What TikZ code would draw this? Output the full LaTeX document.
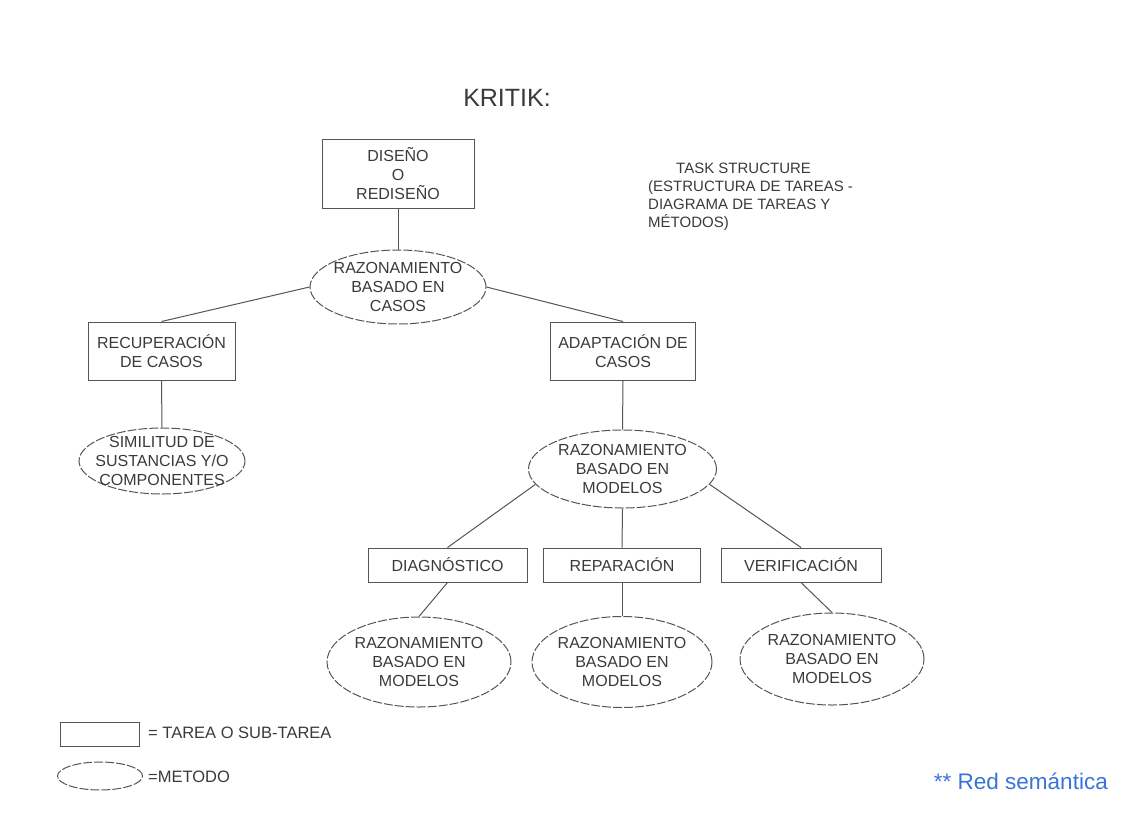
\documentclass[tikz,border=0pt]{standalone}
\usepackage{fontspec}
\setmainfont{Liberation Sans}
\usetikzlibrary{shapes.geometric}
\definecolor{ink}{HTML}{3A3A3A}
\definecolor{edge}{HTML}{555555}
\definecolor{bluetxt}{HTML}{3874D8}
\tikzset{
  task/.style={draw=edge, line width=1pt, inner sep=0pt},
  meth/.style={draw=edge, line width=1pt, ellipse, inner sep=0pt, dash pattern=on 9pt off 2pt},
  lbl/.style={text=ink, align=center, font=\fontsize{16}{19}\selectfont, inner sep=0pt},
  conn/.style={draw=edge, line width=1pt},
}
\begin{document}
\begin{tikzpicture}[x=1pt,y=-1pt]
\useasboundingbox (0,0) rectangle (1148,828);
% title
\node[text=ink, font=\fontsize{25}{30}\selectfont, inner sep=0pt] (title) at (507,98) {KRITIK:};
% task structure note
\node[text=ink, align=left, anchor=north west, font=\fontsize{15}{18}\selectfont, inner sep=0pt] (note) at (648,163)
  {\hspace*{28pt}TASK STRUCTURE\\(ESTRUCTURA DE TAREAS -\\DIAGRAMA DE TAREAS Y\\MÉTODOS)};
% nodes
\node[task, minimum width=152, minimum height=69] (b1) at (398,173.5) {};
\node[lbl] (b1t) at (b1) {DISEÑO\\O\\REDISEÑO};
\node[meth, minimum width=176, minimum height=74] (e1) at (398,287) {};
\node[lbl] (e1t) at (e1) {RAZONAMIENTO\\BASADO EN\\CASOS};
\node[task, minimum width=147, minimum height=58] (b2) at (161.5,351) {};
\node[lbl] (b2t) at (b2) {RECUPERACIÓN\\DE CASOS};
\node[task, minimum width=145, minimum height=58] (b3) at (623,351) {};
\node[lbl] (b3t) at (b3) {ADAPTACIÓN DE\\CASOS};
\node[meth, minimum width=166, minimum height=66] (e2) at (162,461) {};
\node[lbl] (e2t) at (e2) {SIMILITUD DE\\SUSTANCIAS Y/O\\COMPONENTES};
\node[meth, minimum width=188, minimum height=78] (m) at (622.5,469) {};
\node[lbl] (mt) at (m) {RAZONAMIENTO\\BASADO EN\\MODELOS};
\node[task, minimum width=159, minimum height=34] (b4) at (447.5,565) {};
\node[lbl] (b4t) at (b4) {DIAGNÓSTICO};
\node[task, minimum width=157, minimum height=34] (b5) at (622,565) {};
\node[lbl] (b5t) at (b5) {REPARACIÓN};
\node[task, minimum width=160, minimum height=34] (b6) at (801,565) {};
\node[lbl] (b6t) at (b6) {VERIFICACIÓN};
\node[meth, minimum width=184, minimum height=90] (e4) at (419,662) {};
\node[lbl] (e4t) at (e4) {RAZONAMIENTO\\BASADO EN\\MODELOS};
\node[meth, minimum width=180, minimum height=91] (e5) at (622,662) {};
\node[lbl] (e5t) at (e5) {RAZONAMIENTO\\BASADO EN\\MODELOS};
\node[meth, minimum width=184, minimum height=92] (e6) at (832,659) {};
\node[lbl] (e6t) at (e6) {RAZONAMIENTO\\BASADO EN\\MODELOS};
% connectors
\draw[conn] (b1.south) -- (e1.north);
\draw[conn] (e1.west) -- (b2.north);
\draw[conn] (e1.east) -- (b3.north);
\draw[conn] (b2.south) -- (e2.north);
\draw[conn] (b3.south) -- (m.north);
\draw[conn] (m.190) -- (b4.north);
\draw[conn] (m.south) -- (b5.north);
\draw[conn] (m.350) -- (b6.north);
\draw[conn] (b4.south) -- (e4.north);
\draw[conn] (b5.south) -- (e5.north);
\draw[conn] (b6.south) -- (e6.north);
% legend
\node[task, minimum width=79, minimum height=24] (lg1) at (99.5,734) {};
\node[text=ink, anchor=west, font=\fontsize{16.5}{19}\selectfont, inner sep=0pt] (lg1t) at (148,733) {= TAREA O SUB-TAREA};
\node[meth, minimum width=85, minimum height=28] (lg2) at (100,776) {};
\node[text=ink, anchor=west, font=\fontsize{16.5}{19}\selectfont, inner sep=0pt] (lg2t) at (148,777) {=METODO};
% footnote
\node[text=bluetxt, anchor=east, font=\fontsize{22.5}{26}\selectfont, inner sep=0pt] (red) at (1108,781) {** Red semántica};
\end{tikzpicture}
\end{document}
